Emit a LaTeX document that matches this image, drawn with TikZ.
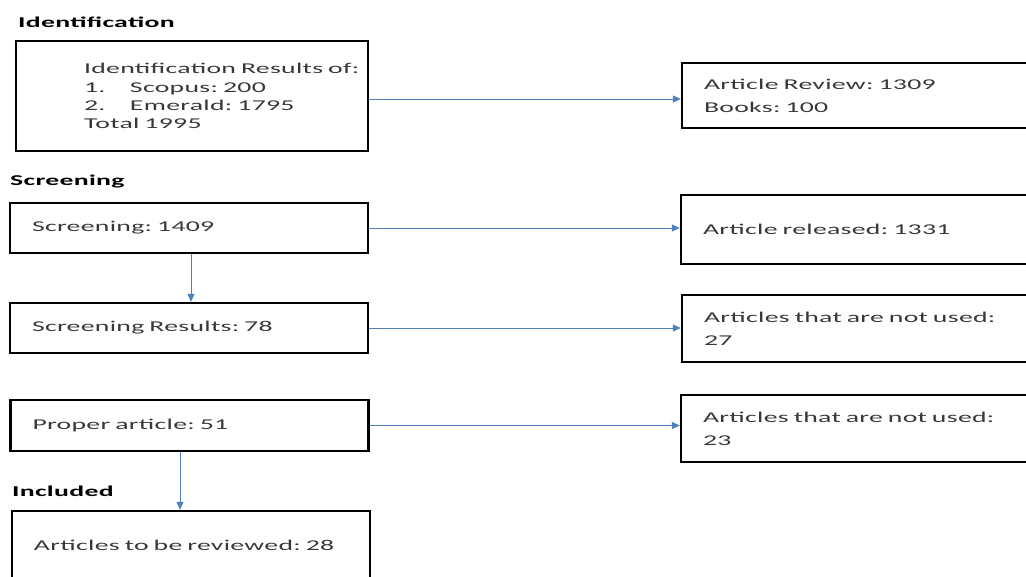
\documentclass[tikz,border=0pt]{standalone}
\usepackage{fontspec}
\setmainfont{Carlito}[FakeStretch=1.85,LetterSpace=2]
\usepackage{xcolor}
\usepackage{tikz}
\usetikzlibrary{arrows.meta}
\definecolor{flowblue}{RGB}{79,129,189}
\definecolor{boxtext}{RGB}{56,56,56}
\frenchspacing

\begin{document}
\begin{tikzpicture}[x=1pt, y=-1pt, font=\fontsize{15}{18.3}\selectfont,
    stage/.style={draw, line width=2.4pt, text width=314pt, inner xsep=22pt, inner ysep=0pt, align=left, text=boxtext},
    outcome/.style={stage, font=\fontsize{15}{23}\selectfont},
    phase/.style={anchor=west, inner sep=0pt, font=\fontsize{15}{18}\selectfont\bfseries},
    flow/.style={draw=flowblue, line width=0.8pt, -{Triangle[length=8pt,width=7pt]}}]
        \clip (0,0) rectangle (1026,576);
        % phase headings
        \node (idlabel) [phase] at (18,22) {Identification};
        \node (sclabel) [phase] at (10,182) {Screening};
        \node (inlabel) [phase] at (12,491) {Included};
        % left column
        \node (ident) [stage, text width=344pt, inner xsep=4pt, minimum height=110pt] at (192,96) {\leftskip=64pt Identification Results of:\\ \makebox[46pt][l]{1.}Scopus: 200\\ \makebox[46pt][l]{2.}Emerald: 1795\\ Total 1995\par};
        \node (screen) [stage, minimum height=50pt] at (189,228) {Screening: 1409};
        \node (results) [stage, minimum height=50pt] at (189,328) {Screening Results: 78};
        \node (proper) [stage, minimum height=51pt] at (189.5,425.5) {Proper article: 51};
        \node (reviewed) [stage, minimum height=68pt] at (191,545) {Articles to be reviewed: 28};
        % right column
        \node (review) [outcome, minimum height=65pt] at (861,95.5) {Article Review: 1309\\ Books: 100};
        \node (released) [outcome, minimum height=69pt] at (860,229.5) {Article released: 1331};
        \node (unused1) [outcome, minimum height=67pt] at (861,328.5) {Articles that are not used:\\ 27};
        \node (unused2) [outcome, minimum height=67pt] at (860,428.5) {Articles that are not used:\\ 23};
        % connectors
        \draw[flow] ([yshift=-3pt]ident.east) -- ([yshift=-3pt]ident.east -| review.west);
        \draw[flow] (screen) -- (screen -| released.west);
        \draw[flow] (results) -- (results -| unused1.west);
        \draw[flow] (proper) -- (proper -| unused2.west);
        \draw[flow] ([xshift=2pt]screen.south) -- ([xshift=2pt]screen.south |- results.north);
        \draw[flow] ([xshift=-9.5pt]proper.south) -- ([xshift=-9.5pt]proper.south |- reviewed.north);
    \end{tikzpicture}
\end{document}
